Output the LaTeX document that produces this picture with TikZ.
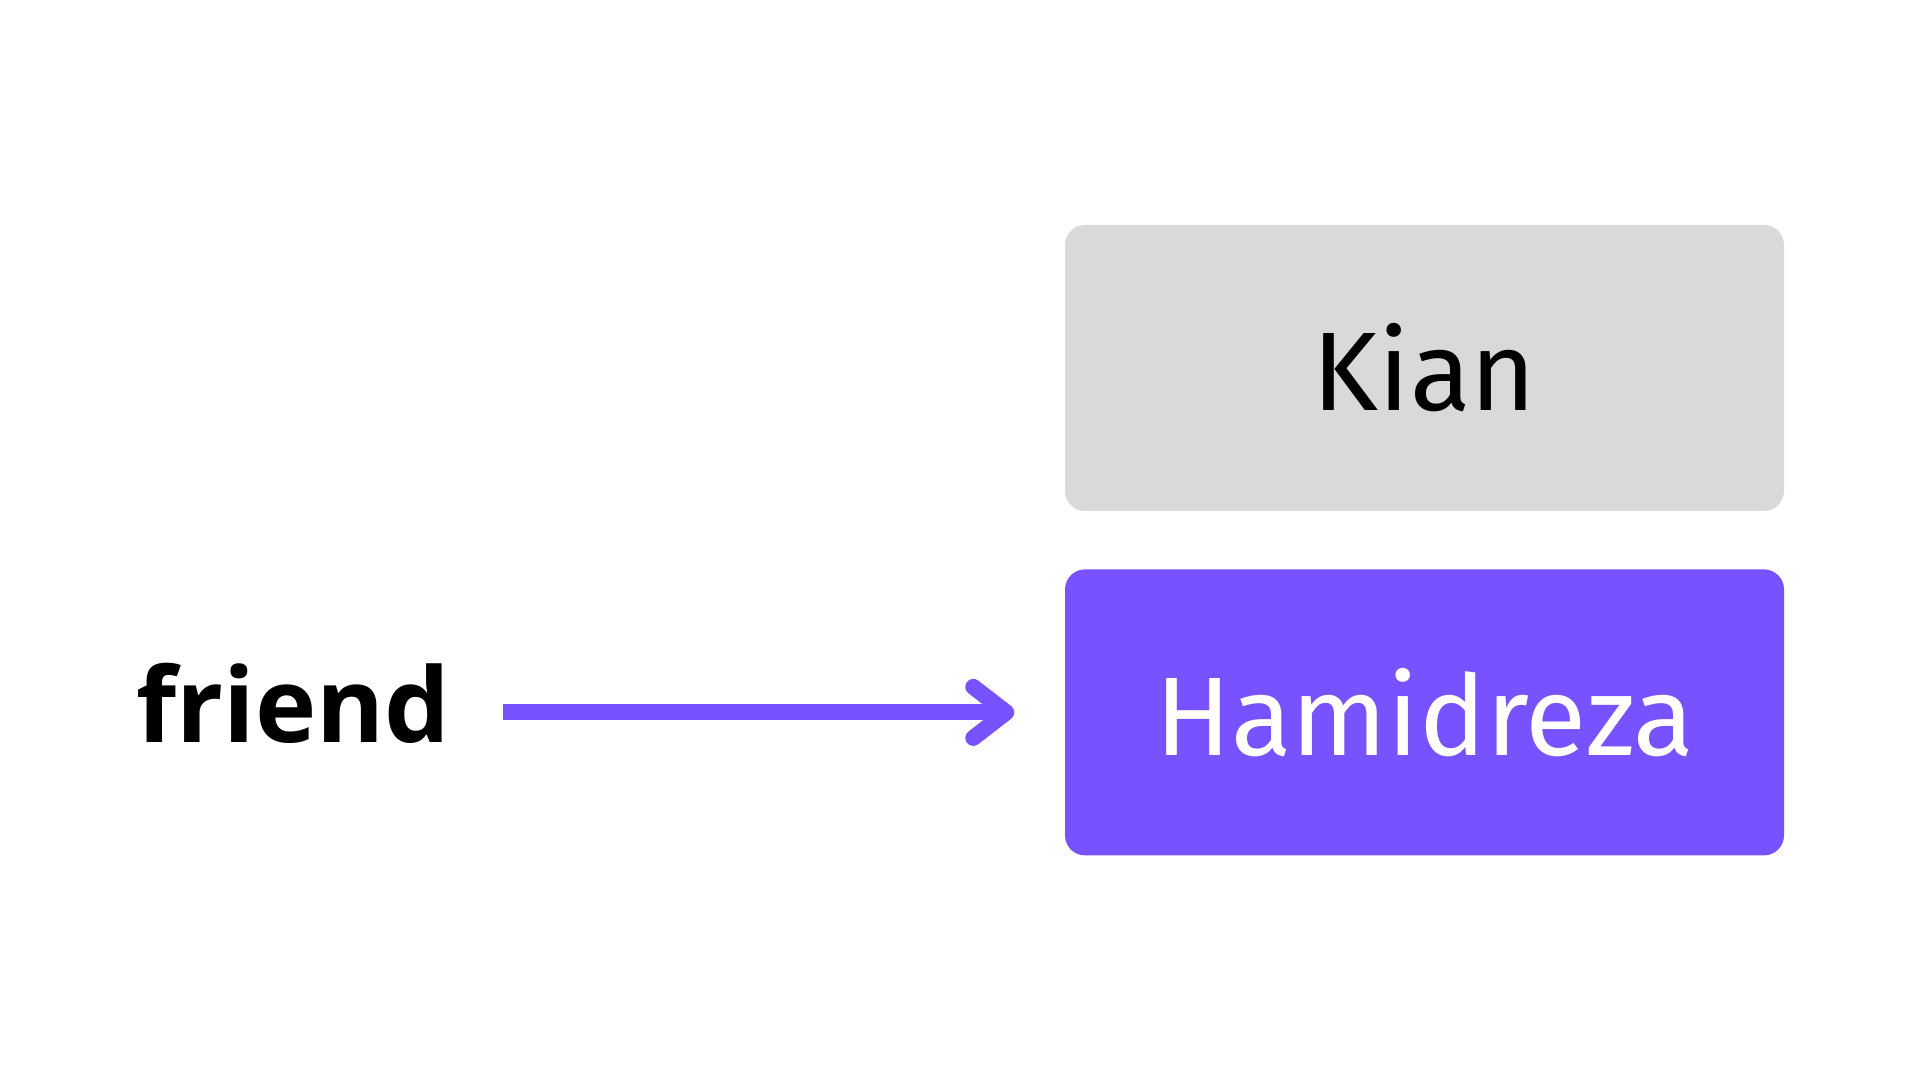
\documentclass[tikz,border=0pt]{standalone}
\usepackage{fontspec}
\setmainfont{Fira Sans}
\newfontfamily\labfont{Open Sans}
\usetikzlibrary{positioning, arrows.meta}
\definecolor{boxgray}{HTML}{D9D9D9}
\definecolor{friendpurple}{HTML}{7752FE}

\begin{document}
\begin{tikzpicture}[
            box/.style={rectangle, rounded corners=0.2cm, inner sep=0pt,
                minimum width=7.19cm, minimum height=2.86cm,
                font=\fontsize{31.8}{36}\selectfont},
            lab/.style={inner sep=0pt, font=\labfont\bfseries\fontsize{29.5}{34}\selectfont},
            link/.style={draw=friendpurple, line width=0.16cm,
                -{Straight Barb[length=0.33cm, width=0.51cm, round]}}
        ]

        % page
        \fill[white] (0,0) rectangle (19.2,10.8);
        \useasboundingbox (0,0) rectangle (19.2,10.8);

        % boxes
        \node[box, fill=boxgray] (kian) at (14.245,7.12) {Kian};
        \node[box, fill=friendpurple, text=white, below=0.57cm of kian] (hamid) {Hamidreza};

        % labels
        \node[lab, anchor=base west] (friend) at (1.36,3.37) {friend};

        % arrow
        \draw[link, shorten <=0.52cm, shorten >=0.5cm] (friend.east |- hamid.west) -- (hamid.west);
    \end{tikzpicture}
\end{document}
